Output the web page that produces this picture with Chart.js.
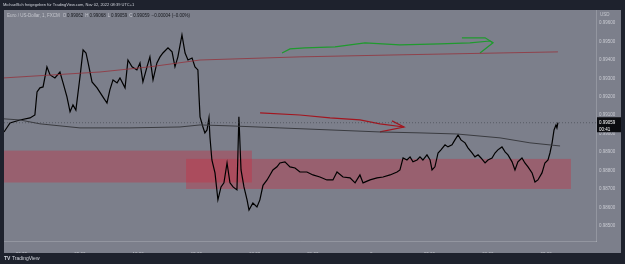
<!DOCTYPE html>
<html>
<head>
<meta charset="utf-8">
<script src="https://cdn.jsdelivr.net/npm/chart.js@4.4.0/dist/chart.umd.min.js"></script>
<style>
  html, body { margin: 0; padding: 0; background: #1e222d; }
  canvas { display: block; }
</style>
</head>
<body>
<canvas id="chart" width="625" height="264"></canvas>
<script>
// hours since Nov 01 00:00, 1 minute EUR/USD (FXCM)
var times = [5.10,5.41,5.92,6.44,6.69,6.80,6.95,7.11,7.31,7.47,
  7.72,7.98,8.14,8.34,8.50,8.65,8.80,9.01,9.17,9.32,
  9.42,9.63,9.89,10.19,10.40,10.55,10.71,10.92,11.07,11.33,
  11.48,11.69,11.94,12.10,12.25,12.46,12.61,12.77,12.97,13.13,
  13.28,13.54,13.75,13.90,14.05,14.26,14.42,14.57,14.78,14.93,
  15.08,15.14,15.19,15.34,15.44,15.55,15.65,15.70,15.80,15.96,
  16.11,16.27,16.42,16.58,16.73,16.89,17.09,17.19,17.30,17.45,
  17.61,17.71,17.91,18.12,18.27,18.43,18.64,18.79,18.94,19.15,
  19.30,19.56,19.82,20.08,20.33,20.69,21.00,21.36,21.72,22.03,
  22.24,22.55,22.91,23.17,23.42,23.58,23.94,24.30,24.61,24.97,
  25.33,25.48,25.64,25.84,26.00,26.15,26.36,26.51,26.66,26.87,
  27.03,27.13,27.28,27.44,27.59,27.80,27.95,28.16,28.31,28.47,
  28.62,28.83,28.98,29.19,29.34,29.50,29.65,29.86,30.01,30.22,
  30.37,30.52,30.73,30.89,31.04,31.25,31.40,31.55,31.76,31.91,
  32.07,32.28,32.43,32.58,32.79,32.94,33.10,33.20,33.31,33.41,
  33.51,33.56,33.61];
var prices = [0.99009,0.99058,0.99074,0.99085,0.99101,0.99226,0.99248,0.99253,0.99362,0.99318,
  0.99302,0.99334,0.99275,0.99199,0.99118,0.99156,0.99128,0.99307,0.99454,0.99437,
  0.99389,0.99280,0.99248,0.99199,0.99166,0.99237,0.99291,0.99275,0.99302,0.99248,
  0.99399,0.99362,0.99345,0.99383,0.99280,0.99362,0.99416,0.99291,0.99383,0.99416,
  0.99437,0.99465,0.99443,0.99362,0.99416,0.99535,0.99437,0.99399,0.99410,0.99362,
  0.99345,0.99199,0.99091,0.99036,0.99004,0.99020,0.99085,0.98982,0.98857,0.98787,
  0.98641,0.98711,0.98733,0.98841,0.98733,0.98711,0.98695,0.99091,0.98803,0.98711,
  0.98641,0.98586,0.98624,0.98603,0.98641,0.98720,0.98749,0.98776,0.98803,0.98820,
  0.98841,0.98847,0.98820,0.98814,0.98792,0.98792,0.98776,0.98765,0.98749,0.98749,
  0.98792,0.98765,0.98760,0.98733,0.98776,0.98733,0.98749,0.98760,0.98765,0.98776,
  0.98792,0.98803,0.98868,0.98857,0.98874,0.98847,0.98857,0.98874,0.98857,0.98885,
  0.98857,0.98803,0.98820,0.98895,0.98912,0.98939,0.98928,0.98939,0.98966,0.98993,
  0.98966,0.98950,0.98923,0.98895,0.98874,0.98885,0.98868,0.98841,0.98857,0.98868,
  0.98895,0.98912,0.98928,0.98901,0.98885,0.98847,0.98803,0.98847,0.98868,0.98841,
  0.98820,0.98787,0.98738,0.98749,0.98787,0.98841,0.98857,0.98895,0.98950,0.99020,
  0.99047,0.99031,0.99059];

var maTimes = [5.10,5.92,6.95,9.01,11.58,14.16,15.19,16.73,19.30,21.88,24.45,26.51,28.41,30.63,32.17,33.72];
var maValues = [0.99080,0.99074,0.99053,0.99031,0.99031,0.99036,0.99047,0.99042,0.99031,0.99020,0.99009,0.99004,0.98998,0.98977,0.98950,0.98933];

var trendTimes = [5.10,10.04,12.61,15.19,20.33,25.48,33.61];
var trendValues = [0.99302,0.99334,0.99362,0.99399,0.99416,0.99427,0.99443];

// hand drawn arrows
var greenTimes = [19.41,19.82,20.59,22.14,22.91,23.68,25.48,27.54,29.08,30.11,30.27];
var greenValues = [0.99437,0.99459,0.99465,0.99470,0.99481,0.99492,0.99481,0.99486,0.99492,0.99502,0.99492];
var greenHeadTimes = [28.67,29.86,30.27,29.60];
var greenHeadValues = [0.99519,0.99519,0.99492,0.99437];
var redTimes = [18.28,20.33,21.88,23.42,24.45,25.69];
var redValues = [0.99112,0.99101,0.99085,0.99074,0.99053,0.99036];
var redHeadTimes = [25.07,25.69,24.45];
var redHeadValues = [0.99069,0.99036,0.99009];

// supply / demand boxes
var zoneStart = [5.10, 14.47];
var zoneEnd = [17.86, 34.28];
var zoneTop = [0.98908, 0.98863];
var zoneBottom = [0.98735, 0.98700];

var lastPrice = 0.99059;
var xMin = 5.10, xMax = 35.57;
var yMin = 0.98418, yMax = 0.99670;

var yTicks = [0.996,0.995,0.994,0.993,0.992,0.991,0.990,0.989,0.988,0.987,0.986,0.985];
var xTickHours = [6,9,12,15,18,21,24,27,30,33];
var xTickLabels = ['06:00','09:00','12:00','15:00','18:00','21:00','2','03:00','06:00','09:00'];

function pts(xs, ys) {
    var out = [];
    for (var i = 0; i < xs.length; i++) out.push({x: xs[i], y: ys[i]});
    return out;
}

function lineSet(data, color, width, dash) {
    return {data: data, borderColor: color, borderWidth: width, borderDash: dash || [],
        pointRadius: 0, fill: false, tension: 0};
}

var FONT = 'Liberation Sans, Arial, sans-serif';

var overlay = {
    id: 'overlay',
    beforeDraw: function(chart) {
        var ctx = chart.ctx;
        ctx.save();
        ctx.fillStyle = '#7c7f8b';
        ctx.fillRect(4, 10, 617, 243);
        ctx.restore();
    },
    beforeDatasetsDraw: function(chart) {
        var ctx = chart.ctx, x = chart.scales.x, y = chart.scales.y, a = chart.chartArea;
        ctx.save();
        ctx.beginPath();
        ctx.rect(a.left, a.top, a.right - a.left, a.bottom - a.top);
        ctx.clip();
        for (var i = 0; i < zoneStart.length; i++) {
            var l = x.getPixelForValue(zoneStart[i]), r = x.getPixelForValue(zoneEnd[i]);
            var t = y.getPixelForValue(zoneTop[i]), b = y.getPixelForValue(zoneBottom[i]);
            ctx.fillStyle = 'rgba(205,40,60,0.35)';
            ctx.fillRect(l, t, r - l, b - t);
        }
        ctx.restore();
    },
    afterDraw: function(chart) {
        var ctx = chart.ctx, y = chart.scales.y;
        ctx.save();
        ctx.textBaseline = 'middle';
        ctx.textAlign = 'left';

        ctx.font = '4px ' + FONT;
        ctx.fillStyle = '#d1d4dc';
        ctx.fillText('MichaelSch freigegeben für TradingView.com, Nov 02, 2022 08:39 UTC+1', 3, 5);

        ctx.font = '4.5px ' + FONT;
        var cx = 7;
        ctx.fillStyle = '#c4c6cd';
        ctx.fillText('Euro / US-Dollar, 1, FXCM', cx, 16);
        cx += ctx.measureText('Euro / US-Dollar, 1, FXCM').width + 3;
        var ohlc = [['O', '0.99062'], ['H', '0.99068'], ['L', '0.99059'], ['C', '0.99059']];
        for (var i = 0; i < ohlc.length; i++) {
            ctx.fillStyle = '#c4c6cd';
            ctx.fillText(ohlc[i][0], cx, 16);
            cx += ctx.measureText(ohlc[i][0]).width + 0.8;
            ctx.fillStyle = '#15171c';
            ctx.fillText(ohlc[i][1], cx, 16);
            cx += ctx.measureText(ohlc[i][1]).width + 2;
        }
        ctx.fillText('\u22120.00004 (\u22120.00%)', cx, 16);

        ctx.fillStyle = '#c4c6cd';
        ctx.fillText('USD', 600, 15);

        // last price label
        var py = y.getPixelForValue(lastPrice);
        ctx.fillStyle = '#0b0c10';
        ctx.fillRect(597, py - 5.5, 24, 15);
        ctx.fillStyle = '#ffffff';
        ctx.fillText('0.99059', 599, py);
        ctx.fillText('00:41', 599, py + 7);

        // footer logo
        ctx.fillStyle = '#d1d4dc';
        ctx.font = 'bold 5px ' + FONT;
        ctx.fillText('TV', 4, 259);
        ctx.font = '5px ' + FONT;
        ctx.fillText('TradingView', 12, 259);
        ctx.restore();
    }
};

var datasets = [
    lineSet(pts(trendTimes, trendValues), 'rgba(150,45,55,0.75)', 1),
    lineSet(pts(maTimes, maValues), '#3a3b40', 1),
    lineSet(pts([xMin, xMax], [lastPrice, lastPrice]), 'rgba(60,62,70,0.8)', 0.7, [1, 2]),
    lineSet(pts(times, prices), '#000000', 1.2),
    lineSet(pts(greenTimes, greenValues), '#1f9a2e', 1.2),
    lineSet(pts(greenHeadTimes, greenHeadValues), '#1f9a2e', 1.2),
    lineSet(pts(redTimes, redValues), '#a3161f', 1.2),
    lineSet(pts(redHeadTimes, redHeadValues), '#a3161f', 1.2)
];

var chart = new Chart(document.getElementById('chart'), {
    type: 'line',
    data: {datasets: datasets},
    options: {
        responsive: false,
        animation: false,
        devicePixelRatio: 1,
        layout: {padding: {left: 4, right: 4, top: 10, bottom: 11}},
        plugins: {legend: {display: false}, tooltip: {enabled: false}},
        scales: {
            x: {
                type: 'linear', min: xMin, max: xMax,
                afterFit: function(s) { s.height = 12; },
                afterBuildTicks: function(s) { s.ticks = xTickHours.map(function(v) { return {value: v}; }); },
                grid: {display: false},
                border: {display: true, color: 'rgba(255,255,255,0.18)'},
                ticks: {
                    color: '#c9cbd2', font: {size: 4.5, family: FONT}, padding: 3, maxRotation: 0,
                    autoSkip: false,
                    callback: function(v, i) { return xTickLabels[i]; }
                }
            },
            y: {
                position: 'right', min: yMin, max: yMax,
                afterFit: function(s) { s.width = 25; },
                afterBuildTicks: function(s) { s.ticks = yTicks.map(function(v) { return {value: v}; }); },
                grid: {display: false, drawTicks: false},
                border: {display: true, color: 'rgba(255,255,255,0.18)'},
                ticks: {
                    color: '#c9cbd2', font: {size: 4.5, family: FONT}, padding: 3, autoSkip: false,
                    callback: function(v) { return v.toFixed(5); }
                }
            }
        }
    },
    plugins: [overlay]
});
</script>
</body>
</html>
